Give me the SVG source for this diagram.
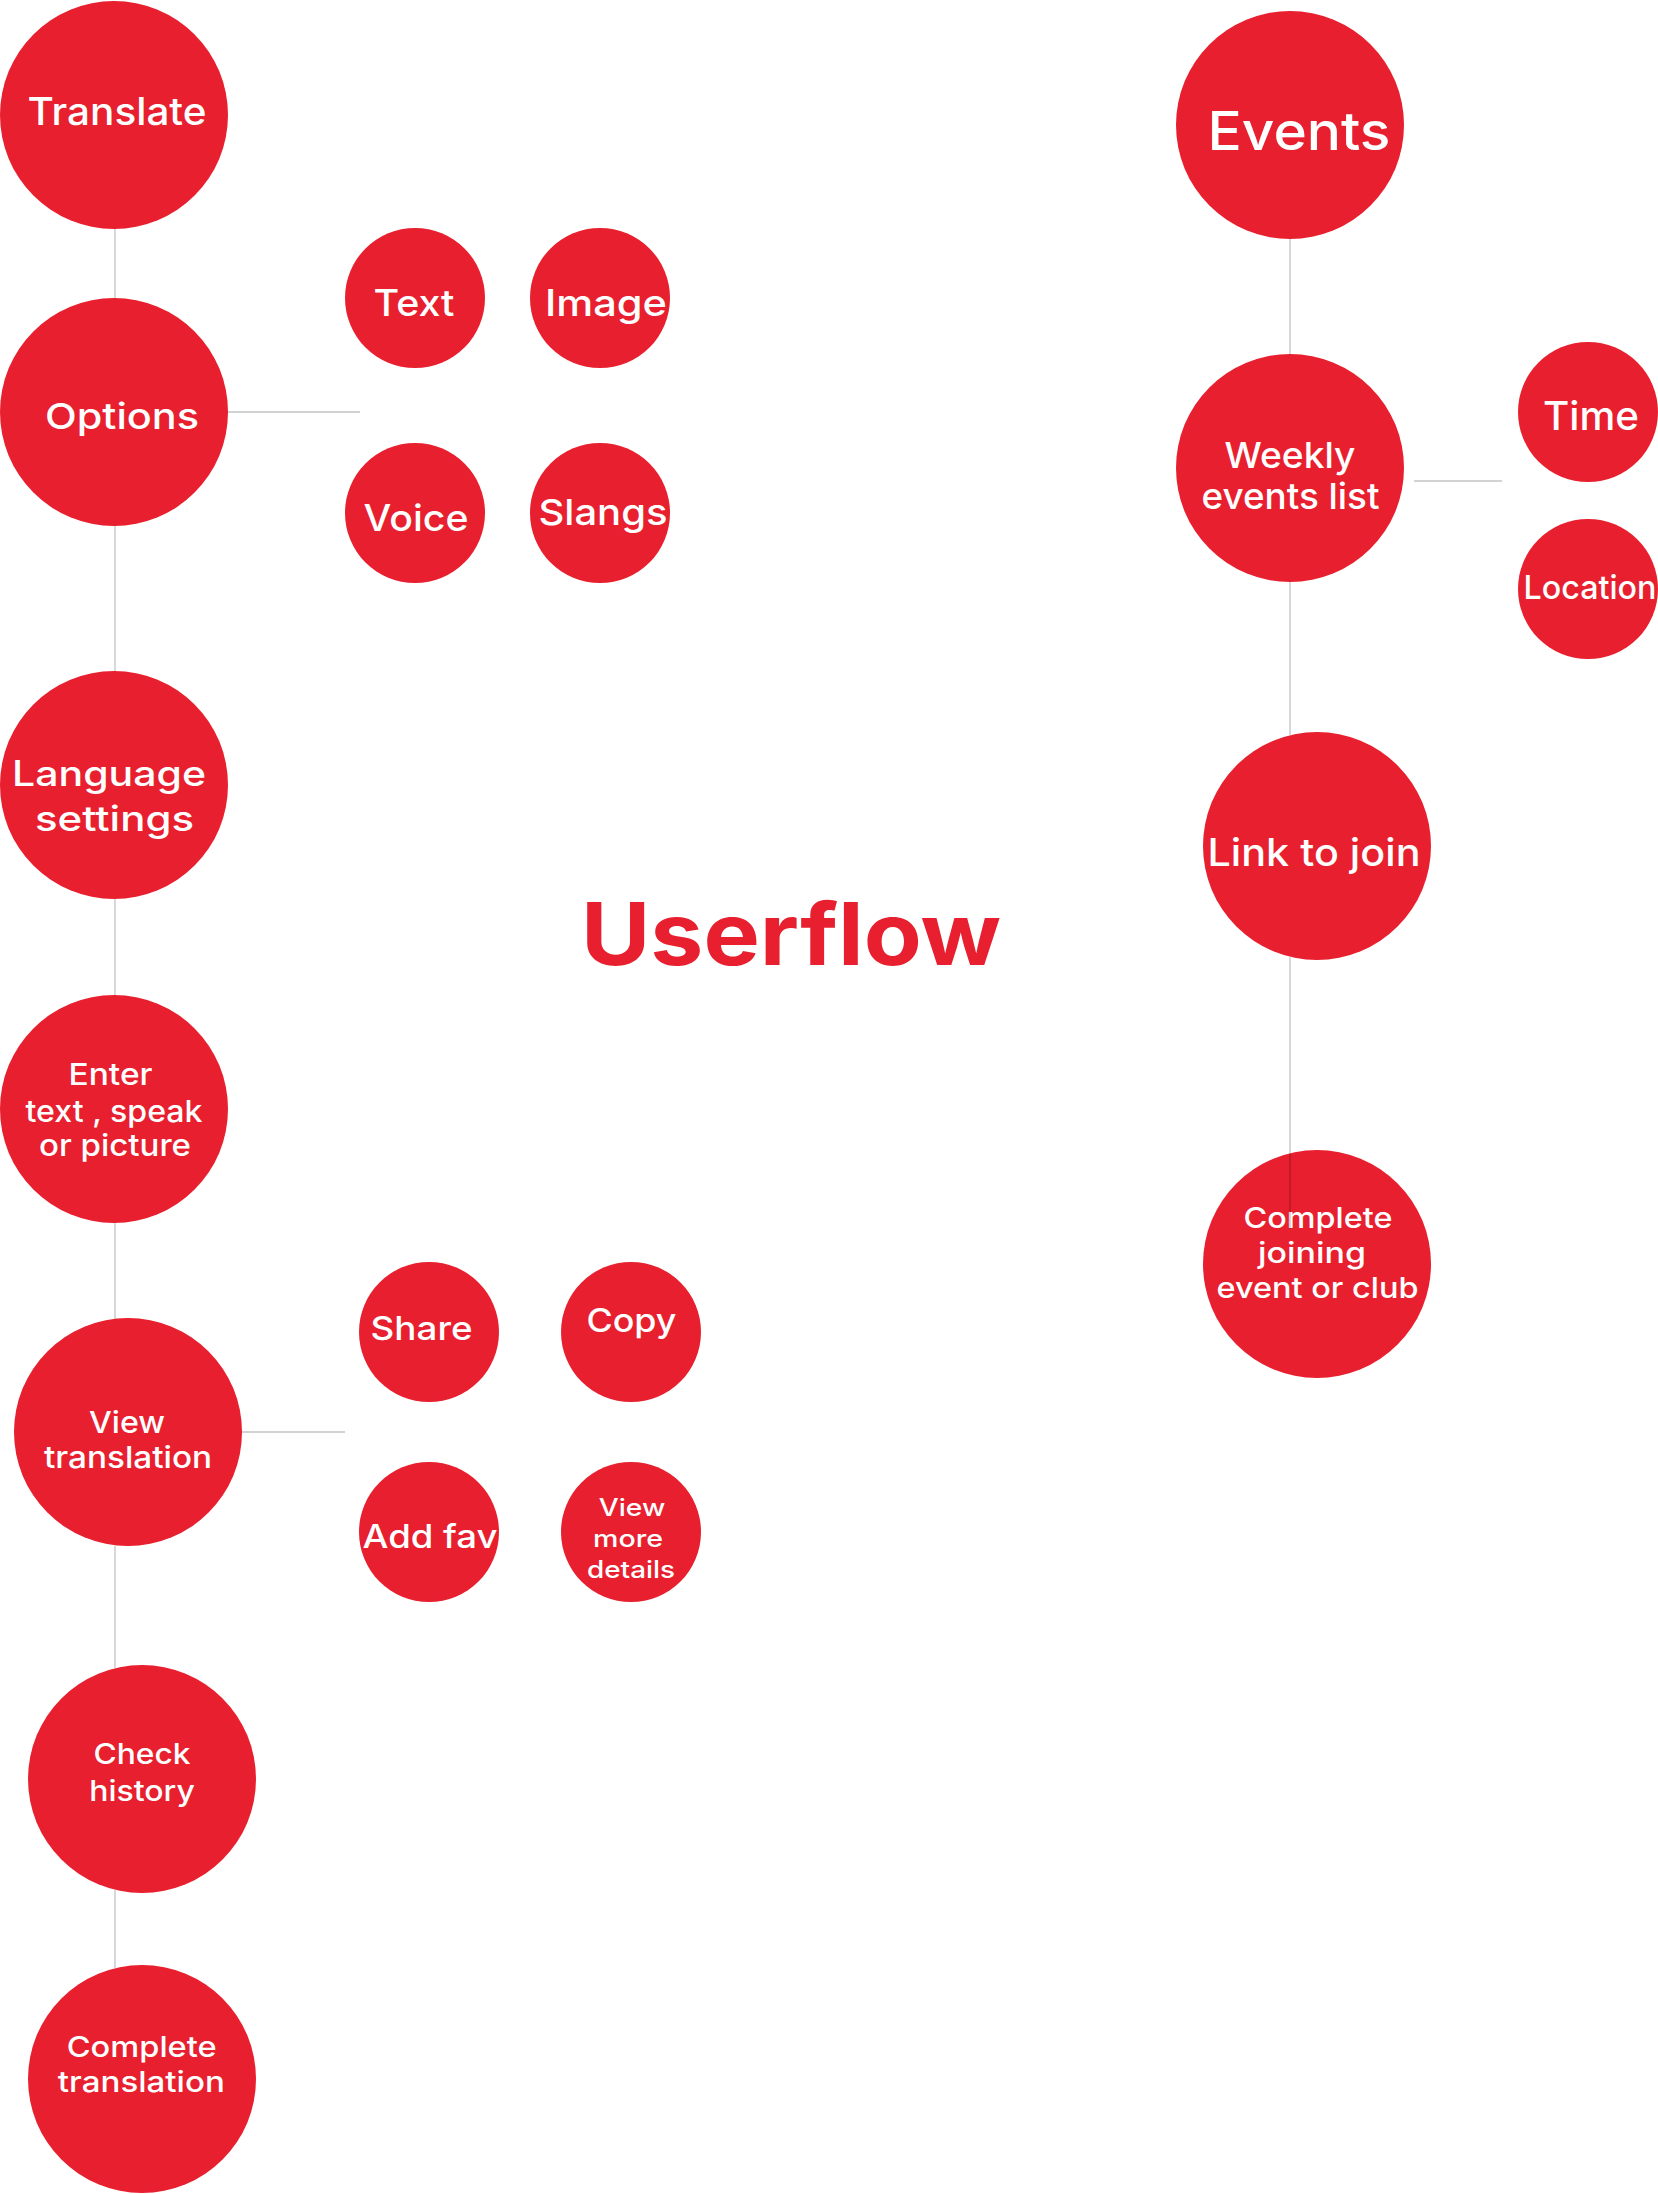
<svg xmlns="http://www.w3.org/2000/svg" width="1658" height="2194" viewBox="0 0 1658 2194">
<style>
.n{fill:#e81f2e}
.t{fill:#fff;font-family:Inter,"Noto Sans","Liberation Sans",sans-serif;font-weight:500;text-anchor:middle}
.c{stroke:#000;stroke-opacity:0.24;stroke-width:1.3;fill:none}
.title{fill:#e81f2e;font-family:Inter,"Noto Sans","Liberation Sans",sans-serif;font-weight:700;text-anchor:middle}
</style>
<rect width="1658" height="2194" fill="#fff"/>
<g id="node-translate"><circle class="n" cx="114" cy="115" r="114"/><text class="t" x="117" y="125" font-size="38" textLength="179" lengthAdjust="spacingAndGlyphs">Translate</text></g>
<g id="node-options"><circle class="n" cx="114" cy="412" r="114"/><text class="t" x="122" y="428.6" font-size="36" textLength="154" lengthAdjust="spacingAndGlyphs">Options</text></g>
<g id="node-text"><circle class="n" cx="415" cy="298" r="70"/><text class="t" x="414" y="316" font-size="37" textLength="81" lengthAdjust="spacingAndGlyphs">Text</text></g>
<g id="node-image"><circle class="n" cx="600" cy="298" r="70"/><text class="t" x="606" y="316" font-size="37" textLength="122" lengthAdjust="spacingAndGlyphs">Image</text></g>
<g id="node-voice"><circle class="n" cx="415" cy="513" r="70"/><text class="t" x="416" y="531" font-size="37" textLength="105" lengthAdjust="spacingAndGlyphs">Voice</text></g>
<g id="node-slangs"><circle class="n" cx="600" cy="513" r="70"/><text class="t" x="603" y="525" font-size="36" textLength="129" lengthAdjust="spacingAndGlyphs">Slangs</text></g>
<g id="node-language"><circle class="n" cx="114" cy="785" r="114"/><text class="t" font-size="35"><tspan x="109" y="786" textLength="194" lengthAdjust="spacingAndGlyphs">Language</tspan><tspan x="114.5" y="831" textLength="159" lengthAdjust="spacingAndGlyphs">settings</tspan></text></g>
<g id="node-enter"><circle class="n" cx="114" cy="1109" r="114"/><text class="t" font-size="30"><tspan x="110.5" y="1085" textLength="84" lengthAdjust="spacingAndGlyphs">Enter</tspan><tspan x="114" y="1121.6" textLength="177" lengthAdjust="spacingAndGlyphs">text , speak</tspan><tspan x="115" y="1156" textLength="152" lengthAdjust="spacingAndGlyphs">or picture</tspan></text></g>
<g id="node-view-translation"><circle class="n" cx="128" cy="1432" r="114"/><text class="t" font-size="30"><tspan x="127" y="1432.7" textLength="76" lengthAdjust="spacingAndGlyphs">View</tspan><tspan x="128" y="1468" textLength="168" lengthAdjust="spacingAndGlyphs">translation</tspan></text></g>
<g id="node-share"><circle class="n" cx="429" cy="1332" r="70"/><text class="t" x="421.6" y="1340" font-size="33" textLength="102" lengthAdjust="spacingAndGlyphs">Share</text></g>
<g id="node-copy"><circle class="n" cx="631" cy="1332" r="70"/><text class="t" x="631.4" y="1331.7" font-size="32" textLength="90" lengthAdjust="spacingAndGlyphs">Copy</text></g>
<g id="node-addfav"><circle class="n" cx="429" cy="1532" r="70"/><text class="t" x="430" y="1548" font-size="32" textLength="135" lengthAdjust="spacingAndGlyphs">Add fav</text></g>
<g id="node-view-more"><circle class="n" cx="631" cy="1532" r="70"/><text class="t" font-size="24"><tspan x="632" y="1516" textLength="66.5" lengthAdjust="spacingAndGlyphs">View</tspan><tspan x="628" y="1547" textLength="70" lengthAdjust="spacingAndGlyphs">more</tspan><tspan x="631" y="1578" textLength="88" lengthAdjust="spacingAndGlyphs">details</tspan></text></g>
<g id="node-check-history"><circle class="n" cx="142" cy="1779" r="114"/><text class="t" font-size="29"><tspan x="142" y="1763.7" textLength="97" lengthAdjust="spacingAndGlyphs">Check</tspan><tspan x="142" y="1800.8" textLength="105.7" lengthAdjust="spacingAndGlyphs">history</tspan></text></g>
<g id="node-complete-translation"><circle class="n" cx="142" cy="2079" r="114"/><text class="t" font-size="29"><tspan x="141.7" y="2057" textLength="150" lengthAdjust="spacingAndGlyphs">Complete</tspan><tspan x="141.3" y="2092" textLength="167" lengthAdjust="spacingAndGlyphs">translation</tspan></text></g>
<g id="node-events"><circle class="n" cx="1290" cy="125" r="114"/><text class="t" x="1299" y="150" font-size="53" textLength="183" lengthAdjust="spacingAndGlyphs">Events</text></g>
<g id="node-weekly"><circle class="n" cx="1290" cy="468" r="114"/><text class="t" font-size="36"><tspan x="1290" y="468" textLength="131" lengthAdjust="spacingAndGlyphs">Weekly</tspan><tspan x="1290.5" y="509" textLength="178" lengthAdjust="spacingAndGlyphs">events list</tspan></text></g>
<g id="node-time"><circle class="n" cx="1588" cy="412" r="70"/><text class="t" x="1591" y="429.5" font-size="40" textLength="96" lengthAdjust="spacingAndGlyphs">Time</text></g>
<g id="node-location"><circle class="n" cx="1588" cy="589" r="70"/><text class="t" x="1590" y="599" font-size="33" textLength="133" lengthAdjust="spacingAndGlyphs">Location</text></g>
<g id="node-link"><circle class="n" cx="1317" cy="846" r="114"/><text class="t" x="1314" y="866" font-size="38" textLength="213" lengthAdjust="spacingAndGlyphs">Link to join</text></g>
<g id="node-complete-joining"><circle class="n" cx="1317" cy="1264" r="114"/><text class="t" font-size="29"><tspan x="1318" y="1228" textLength="149" lengthAdjust="spacingAndGlyphs">Complete</tspan><tspan x="1312" y="1263" textLength="108" lengthAdjust="spacingAndGlyphs">joining</tspan><tspan x="1317.5" y="1298" textLength="202" lengthAdjust="spacingAndGlyphs">event or club</tspan></text></g>
<g id="title"><text class="title" x="791" y="965" font-size="86" textLength="420" lengthAdjust="spacingAndGlyphs">Userflow</text></g>
<g id="connectors">
<line class="c" x1="115" y1="229" x2="115" y2="298"/>
<line class="c" x1="115" y1="526" x2="115" y2="671"/>
<line class="c" x1="115" y1="899" x2="115" y2="995"/>
<line class="c" x1="115" y1="1223" x2="115" y2="1319"/>
<line class="c" x1="115" y1="1546" x2="115" y2="1668"/>
<line class="c" x1="115" y1="1890" x2="115" y2="1968"/>
<line class="c" x1="228" y1="412" x2="360" y2="412"/>
<line class="c" x1="242" y1="1432" x2="345" y2="1432"/>
<line class="c" x1="1290" y1="239" x2="1290" y2="354"/>
<line class="c" x1="1290" y1="582" x2="1290" y2="735"/>
<line class="c" x1="1290" y1="957" x2="1290" y2="1229"/>
<line class="c" x1="1414" y1="481" x2="1502" y2="481"/>
</g>
</svg>
